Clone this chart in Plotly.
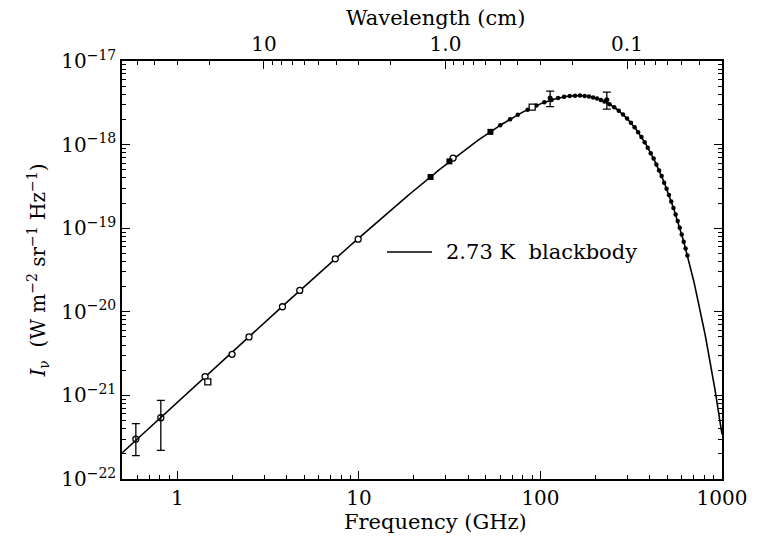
import numpy as np
import plotly.graph_objects as go

# ---- measurements (frequency in GHz, intensity in W m^-2 sr^-1 Hz^-1) ----
# low-frequency radiometer points with error bars
lowf_ghz = [0.59, 0.81]
lowf_I = [3.0e-22, 5.4e-22]
lowf_err_up = [1.6e-22, 3.3e-22]
lowf_err_dn = [1.1e-22, 3.2e-22]

# ground-based open-circle points
ground_ghz = [1.42, 2.0, 2.48, 3.79, 4.72, 7.4, 9.9, 33.0]
ground_I = [1.68e-21, 3.1e-21, 5.0e-21, 1.15e-20, 1.8e-20, 4.3e-20, 7.4e-20, 6.9e-19]

# open squares
square_ghz = [1.47, 90.0]
square_I = [1.45e-21, 2.8e-18]

# filled markers
filled_ghz = [24.8, 31.5, 53.0]
filled_I = [4.1e-19, 6.3e-19, 1.42e-18]

# points with vertical error bars near the peak
peak_ghz = [113.0, 232.0]
peak_I = [3.6e-18, 3.45e-18]
peak_err = [0.75e-18, 0.8e-18]

# satellite spectrum points along the peak and Wien side
sat_ghz = [60, 68, 75, 85, 95, 105, 115, 125, 135, 145, 155, 165, 175, 185,
           195, 205, 215, 225, 240, 255, 270, 285, 300, 315, 330, 345, 360,
           375, 390, 405, 420, 435, 450, 465, 480, 495, 510, 525, 540, 555,
           570, 585, 600, 615, 630, 645]
sat_I = [1.70e-18, 2.01e-18, 2.27e-18, 2.62e-18, 2.93e-18, 3.20e-18, 3.42e-18,
         3.60e-18, 3.73e-18, 3.81e-18, 3.85e-18, 3.86e-18, 3.82e-18, 3.76e-18,
         3.67e-18, 3.55e-18, 3.42e-18, 3.28e-18, 3.04e-18, 2.80e-18, 2.54e-18,
         2.29e-18, 2.05e-18, 1.82e-18, 1.61e-18, 1.41e-18, 1.23e-18, 1.07e-18,
         9.2e-19, 7.9e-19, 6.8e-19, 5.8e-19, 4.9e-19, 4.2e-19, 3.5e-19,
         2.97e-19, 2.50e-19, 2.09e-19, 1.75e-19, 1.46e-19, 1.22e-19, 1.01e-19,
         8.4e-20, 6.9e-20, 5.7e-20, 4.7e-20]

# model temperature
T_cmb = 2.73

# axis tick labels
freq_ticks = [1, 10, 100, 1000]
wl_major_cm = [10, 1.0, 0.1]
wl_major_text = ["10", "1.0", "0.1"]
wl_minor_cm = [60, 50, 40, 30, 20, 9, 8, 7, 6, 5, 4, 3, 2,
               0.9, 0.8, 0.7, 0.6, 0.5, 0.4, 0.3, 0.2,
               0.09, 0.08, 0.07, 0.06, 0.05, 0.04, 0.03]
y_decades = [-22, -21, -20, -19, -18, -17]

# ---- Planck curve ----
h, k, c = 6.62607e-34, 1.380649e-23, 2.99792458e8
nu_ghz = np.logspace(np.log10(0.45), np.log10(1000), 600)
nu = nu_ghz * 1e9
B_nu = 2 * h * nu**3 / c**2 / np.expm1(h * nu / (k * T_cmb))

C_GHZ_CM = 29.9792458  # c in GHz*cm
wl_major_ghz = [C_GHZ_CM / w for w in wl_major_cm]
wl_minor_ghz = [C_GHZ_CM / w for w in wl_minor_cm]

x_minor = [m * 10.0**d for d in (-1, 0, 1, 2) for m in range(2, 10)
           if 0.49 < m * 10.0**d < 1000]
y_minor = [m * 10.0**d for d in range(-22, -17) for m in range(2, 10)]

FONT = "DejaVu Serif"
FS = 20
FS_TITLE = 21
XR = [np.log10(0.495), 3.0]
YR = [-22, -17]

fig = go.Figure()

fig.add_trace(go.Scatter(x=nu_ghz, y=B_nu, mode="lines",
                         line=dict(color="black", width=1.6),
                         showlegend=False, hoverinfo="skip"))

fig.add_trace(go.Scatter(
    x=sat_ghz, y=sat_I, mode="markers",
    marker=dict(symbol="circle", size=4.5, color="black"),
    showlegend=False))

fig.add_trace(go.Scatter(
    x=lowf_ghz, y=lowf_I, mode="markers",
    marker=dict(symbol="circle-open", size=6, color="black", line=dict(width=1.3)),
    error_y=dict(type="data", symmetric=False, array=lowf_err_up,
                 arrayminus=lowf_err_dn, color="black", thickness=1.3, width=4),
    showlegend=False))

fig.add_trace(go.Scatter(
    x=ground_ghz, y=ground_I, mode="markers",
    marker=dict(symbol="circle", size=6, color="white",
                line=dict(color="black", width=1.3)),
    showlegend=False))

fig.add_trace(go.Scatter(
    x=square_ghz, y=square_I, mode="markers",
    marker=dict(symbol="square", size=6, color="white",
                line=dict(color="black", width=1.3)),
    showlegend=False))

fig.add_trace(go.Scatter(
    x=filled_ghz, y=filled_I, mode="markers",
    marker=dict(symbol="square", size=6, color="black"),
    showlegend=False))

fig.add_trace(go.Scatter(
    x=peak_ghz, y=peak_I, mode="markers",
    marker=dict(symbol="circle", size=5, color="black"),
    error_y=dict(type="data", array=peak_err, color="black", thickness=1.3, width=4),
    showlegend=False))

# invisible traces that attach the extra tick axes
for xa, ya in [("x2", "y"), ("x3", "y"), ("x4", "y"), ("x", "y2")]:
    fig.add_trace(go.Scatter(x=[1, 100], y=[1e-21, 1e-19], xaxis=xa, yaxis=ya,
                             mode="markers", marker=dict(opacity=0),
                             showlegend=False, hoverinfo="skip"))

base = dict(
    type="log", showgrid=False, zeroline=False, showline=True,
    linecolor="black", linewidth=1.5, ticks="inside", tickcolor="black",
    tickmode="array", tickfont=dict(family=FONT, size=FS, color="black"),
)
major = dict(base, ticklen=8, tickwidth=1.3)
minor = dict(base, ticklen=4, tickwidth=1.1, showticklabels=False)

fig.update_layout(
    width=775, height=537,
    margin=dict(l=122, r=53, t=61, b=58),
    paper_bgcolor="white", plot_bgcolor="white",
    font=dict(family=FONT, size=FS, color="black"),
    # frequency axis (bottom)
    xaxis=dict(major, range=XR, tickvals=freq_ticks,
               ticktext=[str(t) for t in freq_ticks]),
    xaxis3=dict(minor, range=XR, overlaying="x", side="bottom", anchor="y",
                tickvals=x_minor),
    # wavelength axis (top)
    xaxis2=dict(major, range=XR, overlaying="x", side="top", anchor="y",
                tickvals=wl_major_ghz, ticktext=wl_major_text),
    xaxis4=dict(minor, range=XR, overlaying="x", side="top", anchor="y",
                tickvals=wl_minor_ghz),
    # intensity axis (left, mirrored on the right)
    yaxis=dict(major, range=YR, mirror="ticks",
               tickvals=[10.0**d for d in y_decades],
               ticktext=["10<sup>\u2212%d</sup>" % (-d) for d in y_decades],
               title=dict(text="<i>I</i><sub>\u03bd</sub>  (W m<sup>\u22122</sup> "
                               "sr<sup>\u22121</sup> Hz<sup>\u22121</sup>)",
                          font=dict(family=FONT, size=FS), standoff=10)),
    yaxis2=dict(minor, range=YR, overlaying="y", side="left", anchor="x",
                mirror="ticks", tickvals=y_minor),
    shapes=[dict(type="line", xref="paper", yref="paper",
                 x0=0.4417, x1=0.5167, y0=0.543, y1=0.543,
                 line=dict(color="black", width=1.6))],
    annotations=[
        dict(text="2.73 K  blackbody", xref="paper", yref="paper",
             x=0.536, y=0.543, xanchor="left", yanchor="middle",
             showarrow=False, font=dict(family=FONT, size=FS_TITLE)),
        dict(text="Wavelength (cm)", xref="paper", yref="paper",
             x=0.523, y=1.103, xanchor="center", yanchor="middle",
             showarrow=False, font=dict(family=FONT, size=FS_TITLE)),
        dict(text="Frequency (GHz)", xref="paper", yref="paper",
             x=0.523, y=-0.103, xanchor="center", yanchor="middle",
             showarrow=False, font=dict(family=FONT, size=FS_TITLE)),
    ],
)

fig.write_html("out.html")
